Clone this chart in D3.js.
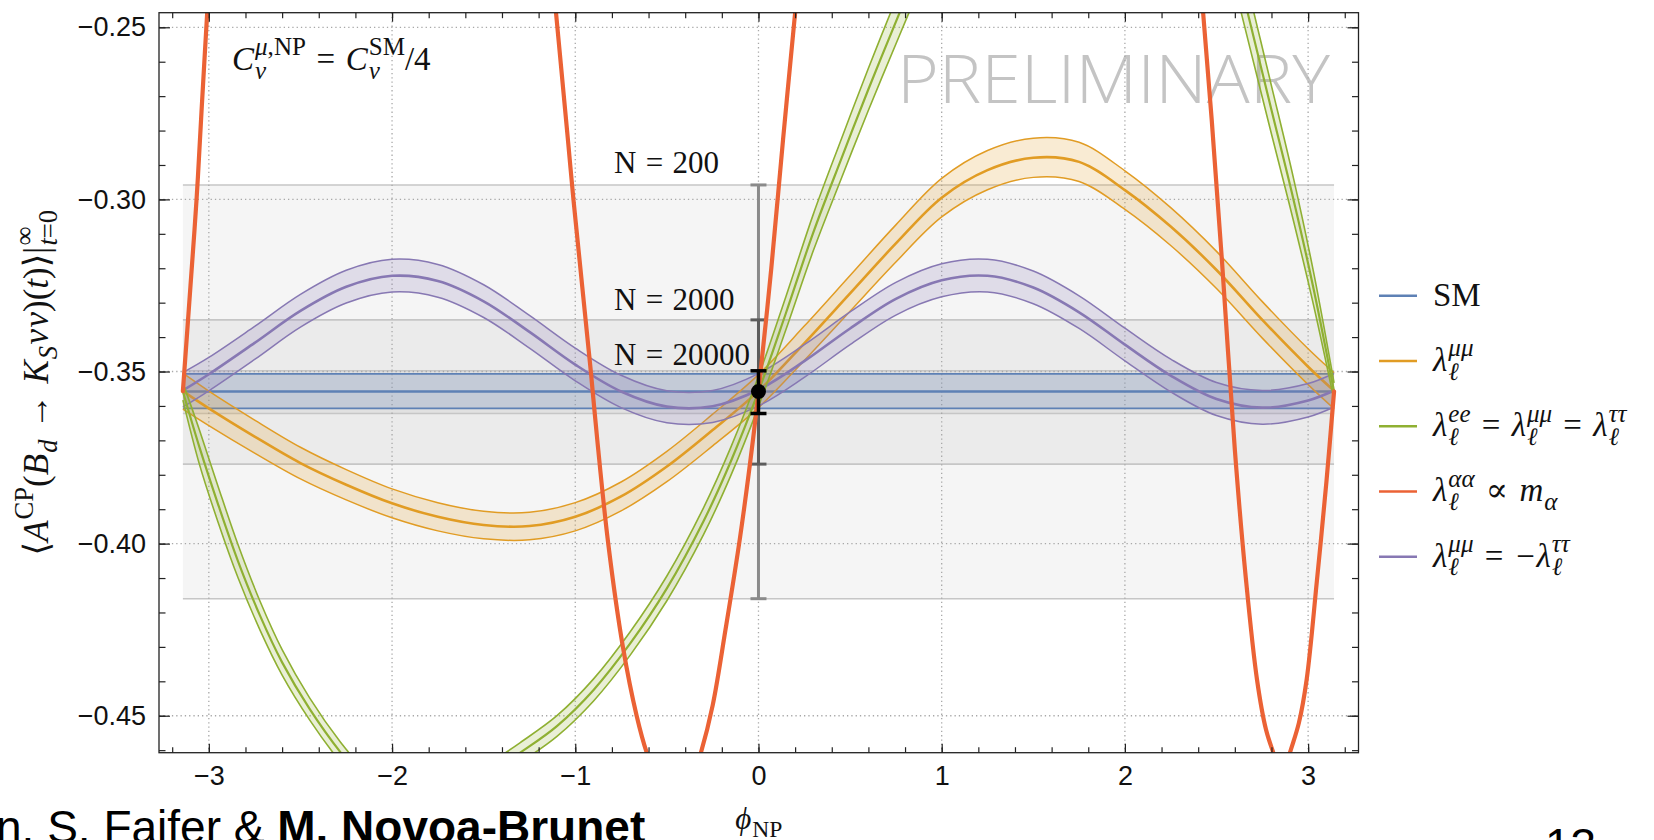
<!DOCTYPE html>
<html>
<head>
<meta charset="utf-8">
<script src="https://cdn.jsdelivr.net/npm/d3@7"></script>
<style>
  body { margin: 0; background: #fff; }
  svg { display: block; }
</style>
</head>
<body>
<svg id="chart" width="1654" height="840"></svg>
<script>
// ---- data ----
var phiExtent = [-3.272, 3.275];
var valueExtent = [-0.46074, -0.24576];

var phiGrid = [-3.1416, -3.0, -2.75, -2.5, -2.25, -2.0, -1.75, -1.5, -1.25, -1.0, -0.75, -0.5, -0.25, 0,
  0.25, 0.5, 0.75, 1.0, 1.25, 1.5, 1.75, 2.0, 2.25, 2.5, 2.75, 3.0, 3.1416];

// SM band
var smMid = -0.3558, smLo = -0.3607, smHi = -0.3507;

// lambda mumu = - lambda tautau (purple)
var purpleMid = [-0.3555, -0.3508, -0.3417, -0.3324, -0.3254, -0.3222, -0.3237, -0.3296, -0.3385, -0.3480, -0.3558, -0.3602, -0.3601, -0.3553,
  -0.3470, -0.3375, -0.3289, -0.3235, -0.3222, -0.3256, -0.3328, -0.3422, -0.3512, -0.3580, -0.3605, -0.3584, -0.3555];
var purpleHi = [-0.3503, -0.3459, -0.3369, -0.3276, -0.3206, -0.3174, -0.3189, -0.3248, -0.3337, -0.3432, -0.3511, -0.3556, -0.3555, -0.3506,
  -0.3422, -0.3327, -0.3241, -0.3187, -0.3174, -0.3208, -0.3280, -0.3374, -0.3464, -0.3532, -0.3555, -0.3535, -0.3505];
var purpleLo = [-0.3603, -0.3556, -0.3465, -0.3371, -0.3301, -0.3269, -0.3284, -0.3343, -0.3432, -0.3527, -0.3605, -0.3649, -0.3648, -0.3600,
  -0.3517, -0.3422, -0.3336, -0.3283, -0.3269, -0.3303, -0.3375, -0.3469, -0.3559, -0.3628, -0.3653, -0.3632, -0.3603];

// lambda mumu (orange)
var orangeMid = [-0.3557, -0.3607, -0.3689, -0.3766, -0.3829, -0.3883, -0.3922, -0.3946, -0.3949, -0.3922, -0.3863, -0.3776, -0.3670, -0.3557,
  -0.3418, -0.3273, -0.3128, -0.2995, -0.2915, -0.2879, -0.2891, -0.2973, -0.3079, -0.3205, -0.3350, -0.3486, -0.3556];
var orangeHi = [-0.3505, -0.3557, -0.3641, -0.3720, -0.3785, -0.3841, -0.3881, -0.3906, -0.3909, -0.3881, -0.3821, -0.3732, -0.3624, -0.3509,
  -0.3368, -0.3221, -0.3074, -0.2939, -0.2858, -0.2822, -0.2834, -0.2917, -0.3024, -0.3151, -0.3297, -0.3434, -0.3504];
var orangeLo = [-0.3609, -0.3657, -0.3737, -0.3812, -0.3873, -0.3925, -0.3963, -0.3986, -0.3989, -0.3963, -0.3905, -0.3820, -0.3716, -0.3605,
  -0.3468, -0.3325, -0.3182, -0.3051, -0.2972, -0.2936, -0.2948, -0.3029, -0.3134, -0.3259, -0.3403, -0.3538, -0.3608];

// lambda ee = mumu = tautau (green), three visible pieces
var greenPhi = [
  [-3.1416, -3.05, -2.95, -2.84, -2.72, -2.60, -2.45, -2.28, -2.12],
  [-1.45, -1.30, -1.10, -0.90, -0.70, -0.50, -0.30, -0.15, 0, 0.15, 0.30, 0.45, 0.60, 0.77, 0.90],
  [2.55, 2.67, 2.80, 2.92, 3.03, 3.1416]
];
var greenMid = [
  [-0.3558, -0.3722, -0.3885, -0.4052, -0.4210, -0.4345, -0.4480, -0.4607, -0.4705],
  [-0.4660, -0.4607, -0.4530, -0.4425, -0.4290, -0.4130, -0.3935, -0.3760, -0.3558, -0.3330, -0.3095, -0.2885, -0.2680, -0.2458, -0.2290],
  [-0.2200, -0.2458, -0.2740, -0.3000, -0.3260, -0.3558]
];
var greenHi = [
  [-0.3533, -0.3672, -0.3833, -0.4004, -0.4168, -0.4308, -0.4448, -0.4578, -0.4678],
  [-0.4632, -0.4578, -0.4500, -0.4393, -0.4256, -0.4094, -0.3896, -0.3719, -0.3514, -0.3282, -0.3042, -0.2828, -0.2619, -0.2393, -0.2222],
  [-0.2125, -0.2383, -0.2670, -0.2938, -0.3212, -0.3533]
];
var greenLo = [
  [-0.3583, -0.3772, -0.3937, -0.4100, -0.4252, -0.4382, -0.4512, -0.4636, -0.4732],
  [-0.4688, -0.4636, -0.4560, -0.4457, -0.4324, -0.4166, -0.3974, -0.3801, -0.3602, -0.3378, -0.3148, -0.2942, -0.2741, -0.2523, -0.2358],
  [-0.2275, -0.2533, -0.2810, -0.3062, -0.3308, -0.3583]
];

// lambda alphaalpha ~ m_alpha (red), five visible pieces
var redPhi = [
  [-3.1416, -3.10, -3.067, -3.04, -3.009, -2.98],
  [-1.15, -1.105, -1.04, -1.01, -0.915, -0.88, -0.82, -0.74, -0.665, -0.610, -0.57],
  [-0.36, -0.314, -0.25, -0.18, -0.10, -0.03, 0, 0.07, 0.134, 0.20, 0.24],
  [2.39, 2.427, 2.474, 2.53, 2.60, 2.66, 2.721, 2.77, 2.810, 2.84],
  [2.86, 2.901, 2.95, 2.992, 3.047, 3.10, 3.1416]
];
var redVal = [
  [-0.3557, -0.3250, -0.3000, -0.2745, -0.2458, -0.2200],
  [-0.2200, -0.2458, -0.2827, -0.3000, -0.3500, -0.3698, -0.4000, -0.4300, -0.4500, -0.4607, -0.4660],
  [-0.4680, -0.4607, -0.4470, -0.4250, -0.3980, -0.3698, -0.3558, -0.3200, -0.2827, -0.2458, -0.2230],
  [-0.2200, -0.2458, -0.2770, -0.3180, -0.3727, -0.4100, -0.4395, -0.4540, -0.4607, -0.4650],
  [-0.4680, -0.4607, -0.4520, -0.4395, -0.4113, -0.3820, -0.3558]
];

// expected sensitivity for N events
var sampleLabels = ["N = 200", "N = 2000", "N = 20000"];
var sampleHi = [-0.2958, -0.3350, -0.3498];
var sampleLo = [-0.4160, -0.3769, -0.3622];

var xMajor = [-3, -2, -1, 0, 1, 2, 3];
var yMajor = [-0.45, -0.40, -0.35, -0.30, -0.25];

// ---- drawing ----
var serif = "'Liberation Serif', 'DejaVu Serif', serif";
var sans = "'Liberation Sans', Arimo, Arial, sans-serif";
var colors = {sm: "#5E81B5", orange: "#E19C24", green: "#8FB032", red: "#EB6235", purple: "#8778B3"};

var svg = d3.select("#chart");
var plot = {left: 159, right: 1358.5, top: 12.7, bottom: 752.7};

var x = d3.scaleLinear().domain(phiExtent).range([plot.left, plot.right]);
var y = d3.scaleLinear().domain(valueExtent).range([plot.bottom, plot.top]);

svg.append("rect").attr("width", 1654).attr("height", 840).attr("fill", "#fff");

svg.append("clipPath").attr("id", "clip")
  .append("rect")
  .attr("x", plot.left).attr("y", plot.top)
  .attr("width", plot.right - plot.left).attr("height", plot.bottom - plot.top);

// small typesetter for the math labels (sub/superscripts stacked like TeX)
function mathText(g, x0, y0, size, toks) {
  var cx = x0, scriptStart = null, runEnd = x0;
  toks.forEach(function(k) {
    var s = k.s || 0;
    if (!s) { cx = Math.max(cx, runEnd); scriptStart = null; }
    else if (k.st) { cx = scriptStart; }
    else if (scriptStart === null) { scriptStart = cx + 1; cx += 1; }
    cx += (k.m || 0) * size;
    var fs = s ? size * 0.76 : size;
    var dy = s === 1 ? -0.44 * size : (s === -1 ? 0.26 * size : 0);
    var t = g.append("text")
      .attr("x", cx).attr("y", y0 + dy)
      .attr("font-family", serif)
      .attr("font-size", fs)
      .attr("font-style", k.i ? "italic" : "normal")
      .attr("fill", "#111")
      .text(k.t);
    cx += t.node().getComputedTextLength() + (k.m || 0) * size;
    runEnd = s ? Math.max(runEnd, cx) : cx;
  });
  return runEnd - x0;
}

// watermark, under the grid
svg.append("text")
  .attr("x", 897).attr("y", 103)
  .attr("font-family", "'Open Sans', " + sans)
  .attr("font-weight", 300)
  .attr("font-size", 66)
  .attr("fill", "#c4c4c4")
  .attr("textLength", 433)
  .attr("lengthAdjust", "spacingAndGlyphs")
  .text("PRELIMINARY");

// sensitivity bands
var bands = svg.append("g");
sampleLabels.forEach(function(lab, i) {
  bands.append("rect")
    .attr("x", x(-Math.PI)).attr("width", x(Math.PI) - x(-Math.PI))
    .attr("y", y(sampleHi[i])).attr("height", y(sampleLo[i]) - y(sampleHi[i]))
    .attr("fill", "#000").attr("fill-opacity", 0.04);
  [sampleHi[i], sampleLo[i]].forEach(function(v) {
    bands.append("line")
      .attr("x1", x(-Math.PI)).attr("x2", x(Math.PI))
      .attr("y1", y(v)).attr("y2", y(v))
      .attr("stroke", "#c6c6c6").attr("stroke-width", 1.6);
  });
});

// dotted grid
var grid = svg.append("g").attr("stroke", "#a8a8a8").attr("stroke-width", 1.3).attr("stroke-dasharray", "1.3,3");
xMajor.forEach(function(v) {
  grid.append("line").attr("x1", x(v)).attr("x2", x(v)).attr("y1", plot.top).attr("y2", plot.bottom);
});
yMajor.forEach(function(v) {
  grid.append("line").attr("x1", plot.left).attr("x2", plot.right).attr("y1", y(v)).attr("y2", y(v));
});

// error bars for N = 200, 2000 (below the curves)
var barColors = ["#8a8a8a", "#5c5c5c", "#000"];
function errorBar(i) {
  var g = svg.append("g").attr("stroke", barColors[i]).attr("stroke-width", i === 2 ? 3.5 : 3);
  g.append("line").attr("x1", x(0)).attr("x2", x(0)).attr("y1", y(sampleHi[i])).attr("y2", y(sampleLo[i]));
  [sampleHi[i], sampleLo[i]].forEach(function(v) {
    g.append("line").attr("x1", x(0) - 8).attr("x2", x(0) + 8).attr("y1", y(v)).attr("y2", y(v));
  });
}
errorBar(0);
errorBar(1);

var curves = svg.append("g").attr("clip-path", "url(#clip)");

function rows(phis, lo, mid, hi) {
  return phis.map(function(p, i) { return {phi: p, lo: lo[i], mid: mid[i], hi: hi[i]}; });
}

function drawBand(data, color, opt) {
  var area = d3.area().curve(d3.curveCatmullRom.alpha(0.5))
    .x(function(d) { return x(d.phi); })
    .y0(function(d) { return y(d.lo); })
    .y1(function(d) { return y(d.hi); });
  curves.append("path").datum(data).attr("d", area)
    .attr("fill", color).attr("fill-opacity", opt.fill);
  ["lo", "hi", "mid"].forEach(function(key) {
    var line = d3.line().curve(d3.curveCatmullRom.alpha(0.5))
      .x(function(d) { return x(d.phi); })
      .y(function(d) { return y(d[key]); });
    curves.append("path").datum(data).attr("d", line)
      .attr("fill", "none").attr("stroke", color)
      .attr("stroke-width", key === "mid" ? opt.mid : opt.edge);
  });
}

// SM band
var smRows = [{phi: -Math.PI, lo: smLo, mid: smMid, hi: smHi}, {phi: Math.PI, lo: smLo, mid: smMid, hi: smHi}];
drawBand(smRows, colors.sm, {fill: 0.22, mid: 2.6, edge: 1.8});

drawBand(rows(phiGrid, orangeLo, orangeMid, orangeHi), colors.orange, {fill: 0.2, mid: 2.6, edge: 1.5});
drawBand(rows(phiGrid, purpleLo, purpleMid, purpleHi), colors.purple, {fill: 0.2, mid: 2.6, edge: 1.5});

greenPhi.forEach(function(ph, i) {
  drawBand(rows(ph, greenLo[i], greenMid[i], greenHi[i]), colors.green, {fill: 0.2, mid: 2.2, edge: 1.6});
});

var redLine = d3.line().curve(d3.curveCatmullRom.alpha(0.5))
  .x(function(d) { return x(d[0]); })
  .y(function(d) { return y(d[1]); });
redPhi.forEach(function(ph, i) {
  curves.append("path")
    .datum(ph.map(function(p, j) { return [p, redVal[i][j]]; }))
    .attr("d", redLine)
    .attr("fill", "none").attr("stroke", colors.red).attr("stroke-width", 4.2)
    .attr("stroke-linecap", "round");
});

// N = 20000 bar and SM point on top
errorBar(2);
svg.append("circle").attr("cx", x(0)).attr("cy", y(smMid)).attr("r", 7.5).attr("fill", "#000");

// N labels
var labelGap = [12, 10, 6];
sampleLabels.forEach(function(lab, i) {
  var parts = lab.split(" = ");
  mathText(svg.append("g"), 614, y(sampleHi[i]) - labelGap[i], 31,
    [{t: parts[0]}, {t: "=", m: 0.3}, {t: parts[1]}]);
});

// annotation
mathText(svg.append("g"), 232, 70, 33, [
  {t: "C", i: 1}, {t: "μ", i: 1, s: 1}, {t: ",NP", s: 1}, {t: "ν", i: 1, s: -1, st: 1},
  {t: "=", m: 0.32},
  {t: "C", i: 1}, {t: "SM", s: 1}, {t: "ν", i: 1, s: -1, st: 1},
  {t: "/4"}
]);

// axes: inward ticks on all four sides
function styleAxis(g) {
  g.select(".domain").remove();
  g.selectAll(".tick line").attr("stroke", "#222").attr("stroke-width", 1.2);
  g.selectAll("text").attr("font-family", sans).attr("font-size", 27).attr("fill", "#111");
}
var xMinor = d3.range(-16, 17).map(function(i) { return i * 0.2; });
var yMinor = d3.range(-46, -24).map(function(i) { return i / 100; });

svg.append("g").attr("transform", "translate(0," + plot.bottom + ")")
  .call(d3.axisBottom(x).tickValues(xMinor).tickSize(-5.5).tickFormat("")).call(styleAxis);
svg.append("g").attr("transform", "translate(0," + plot.bottom + ")")
  .call(d3.axisBottom(x).tickValues(xMajor).tickSize(-9).tickPadding(13).tickFormat(d3.format("d"))).call(styleAxis);
svg.append("g").attr("transform", "translate(0," + plot.top + ")")
  .call(d3.axisTop(x).tickValues(xMinor).tickSize(-5.5).tickFormat("")).call(styleAxis);
svg.append("g").attr("transform", "translate(0," + plot.top + ")")
  .call(d3.axisTop(x).tickValues(xMajor).tickSize(-9).tickFormat("")).call(styleAxis);

svg.append("g").attr("transform", "translate(" + plot.left + ",0)")
  .call(d3.axisLeft(y).tickValues(yMinor).tickSize(-6.5).tickFormat("")).call(styleAxis);
svg.append("g").attr("transform", "translate(" + plot.left + ",0)")
  .call(d3.axisLeft(y).tickValues(yMajor).tickSize(-11).tickPadding(13).tickFormat(d3.format(".2f"))).call(styleAxis);
svg.append("g").attr("transform", "translate(" + plot.right + ",0)")
  .call(d3.axisRight(y).tickValues(yMinor).tickSize(-6.5).tickFormat("")).call(styleAxis);
svg.append("g").attr("transform", "translate(" + plot.right + ",0)")
  .call(d3.axisRight(y).tickValues(yMajor).tickSize(-11).tickFormat("")).call(styleAxis);

svg.append("rect")
  .attr("x", plot.left).attr("y", plot.top)
  .attr("width", plot.right - plot.left).attr("height", plot.bottom - plot.top)
  .attr("fill", "none").attr("stroke", "#222").attr("stroke-width", 1.3);

// y axis title, rotated
var yTitle = svg.append("g");
var yw = mathText(yTitle, 0, 0, 35, [
  {t: "⟨"}, {t: "A", i: 1}, {t: "CP", s: 1}, {t: "("}, {t: "B", i: 1}, {t: "d", i: 1, s: -1},
  {t: "→", m: 0.3}, {t: "K", i: 1}, {t: "S", i: 1, s: -1}, {t: "ν", i: 1, m: 0.04}, {t: "ν", i: 1}, {t: ")("}, {t: "t", i: 1}, {t: ")⟩"},
  {t: "|"}, {t: "∞", s: 1}, {t: "t", i: 1, s: -1, st: 1}, {t: "=0", s: -1}
]);
yTitle.attr("transform", "translate(48," + ((plot.top + plot.bottom) / 2 + yw / 2) + ") rotate(-90)");

// x axis title
var xTitle = svg.append("g");
var xw = mathText(xTitle, 0, 0, 31, [{t: "ϕ", i: 1}, {t: "NP", s: -1}]);
xTitle.attr("transform", "translate(" + ((plot.left + plot.right) / 2 - xw / 2) + ",829)");

// legend
var legendItems = [
  {c: colors.sm, toks: [{t: "SM"}]},
  {c: colors.orange, toks: [{t: "λ", i: 1}, {t: "μμ", i: 1, s: 1}, {t: "ℓ", i: 1, s: -1, st: 1}]},
  {c: colors.green, toks: [{t: "λ", i: 1}, {t: "ee", i: 1, s: 1}, {t: "ℓ", i: 1, s: -1, st: 1}, {t: "=", m: 0.34},
    {t: "λ", i: 1}, {t: "μμ", i: 1, s: 1}, {t: "ℓ", i: 1, s: -1, st: 1}, {t: "=", m: 0.34},
    {t: "λ", i: 1}, {t: "ττ", i: 1, s: 1}, {t: "ℓ", i: 1, s: -1, st: 1}]},
  {c: colors.red, toks: [{t: "λ", i: 1}, {t: "αα", i: 1, s: 1}, {t: "ℓ", i: 1, s: -1, st: 1}, {t: "∝", m: 0.34},
    {t: "m", i: 1}, {t: "α", i: 1, s: -1}]},
  {c: colors.purple, toks: [{t: "λ", i: 1}, {t: "μμ", i: 1, s: 1}, {t: "ℓ", i: 1, s: -1, st: 1}, {t: "=", m: 0.34},
    {t: "−", m: 0.05}, {t: "λ", i: 1}, {t: "ττ", i: 1, s: 1}, {t: "ℓ", i: 1, s: -1, st: 1}]}
];
legendItems.forEach(function(it, i) {
  var ly = 295.7 + i * 65.25;
  svg.append("line").attr("x1", 1379).attr("x2", 1417).attr("y1", ly).attr("y2", ly)
    .attr("stroke", it.c).attr("stroke-width", 2.6);
  mathText(svg.append("g"), 1433, ly + 10, 33, it.toks);
});

// slide footer bits
var foot = svg.append("text").attr("x", -4).attr("y", 843)
  .attr("font-family", sans).attr("font-size", 46).attr("fill", "#000");
foot.append("tspan").text("n. S. Faifer & ");
foot.append("tspan").attr("font-weight", "bold").text("M. Novoa-Brunet");
svg.append("text").attr("x", 1545).attr("y", 861)
  .attr("font-family", sans).attr("font-size", 46).attr("fill", "#000").text("13");
</script>
</body>
</html>
